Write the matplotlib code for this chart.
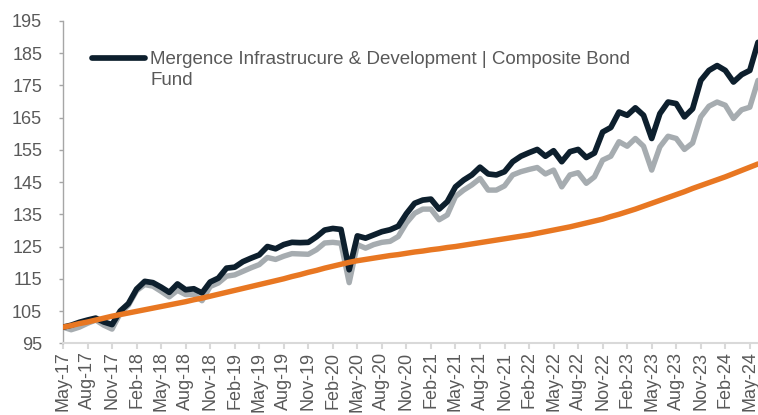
import matplotlib.pyplot as plt
import numpy as np
import pandas as pd
from matplotlib.lines import Line2D

plt.rcParams['font.family'] = ['Liberation Sans', 'DejaVu Sans']

months = pd.date_range("2017-05-01", "2024-06-01", freq="MS")

fund = [100.0, 100.6, 101.5, 102.2, 102.8, 101.6, 100.8, 105.0, 107.3, 111.8,
        114.2, 113.8, 112.4, 110.8, 113.4, 111.6, 111.9, 110.6, 114.0, 115.2,
        118.3, 118.6, 120.3, 121.4, 122.4, 125.0, 124.3, 125.6, 126.3, 126.2,
        126.3, 128.0, 130.1, 130.6, 130.3, 117.8, 128.3, 127.6, 128.6, 129.6,
        130.2, 131.3, 135.2, 138.4, 139.4, 139.7, 136.6, 138.9, 143.5, 145.6,
        147.2, 149.6, 147.5, 147.2, 148.2, 151.3, 153.0, 154.1, 155.1, 153.0,
        154.7, 151.3, 154.4, 155.1, 152.6, 154.0, 160.5, 161.9, 166.7, 165.7,
        168.0, 165.7, 158.5, 166.2, 169.8, 169.3, 165.2, 167.7, 176.5, 179.6,
        181.1, 179.6, 176.0, 178.3, 179.6, 188.3]

composite = [100.0, 99.2, 100.0, 101.2, 102.2, 100.6, 99.4, 104.3, 106.8, 111.3,
             113.2, 112.7, 111.1, 109.4, 111.4, 110.1, 110.2, 108.2, 112.6, 113.7,
             115.8, 116.2, 117.3, 118.4, 119.4, 121.6, 121.0, 122.0, 122.8, 122.7,
             122.6, 124.0, 126.1, 126.3, 126.0, 113.8, 125.6, 124.5, 125.6, 126.3,
             126.6, 128.1, 132.3, 135.3, 136.6, 136.6, 133.3, 134.8, 140.5, 142.5,
             144.1, 146.1, 142.5, 142.5, 143.8, 147.2, 148.2, 148.9, 149.5, 147.5,
             148.7, 143.5, 147.2, 147.9, 144.6, 146.6, 151.8, 153.0, 157.5, 156.1,
             158.5, 156.1, 148.7, 155.9, 159.2, 158.5, 155.1, 157.1, 165.2, 168.5,
             169.8, 168.8, 164.7, 167.4, 168.2, 176.5]

benchmark = [100.0, 100.5, 101.1, 101.6, 102.2, 102.8, 103.4, 103.9, 104.4, 104.9,
             105.4, 105.9, 106.4, 106.9, 107.4, 107.9, 108.5, 109.0, 109.6, 110.2,
             110.8, 111.4, 112.0, 112.6, 113.2, 113.8, 114.4, 115.0, 115.7, 116.3,
             117.0, 117.6, 118.3, 118.9, 119.5, 120.1, 120.6, 121.0, 121.4, 121.8,
             122.2, 122.5, 122.9, 123.3, 123.6, 124.0, 124.3, 124.7, 125.0, 125.4,
             125.8, 126.2, 126.6, 127.0, 127.4, 127.8, 128.2, 128.6, 129.1, 129.6,
             130.1, 130.6, 131.1, 131.7, 132.3, 132.9, 133.5, 134.3, 135.0, 135.8,
             136.6, 137.5, 138.4, 139.3, 140.2, 141.1, 142.0, 143.0, 143.9, 144.8,
             145.7, 146.6, 147.6, 148.6, 149.6, 150.6]

legend_labels = ["Mergence Infrastrucure & Development | Composite Bond", "Fund"]

dark = '#0D1F2D'
grey = '#A6ACB0'
orange = '#E87722'
text_col = '#595959'

x = np.arange(len(months))
tick_pos = x[::3]
tick_labels = [d.strftime("%b-%y") for d in months[::3]]

fig = plt.figure(figsize=(7.58, 4.15), dpi=100)
ax = fig.add_axes([0.0831, 0.1728, 0.9169, 0.7772])

kw = dict(solid_joinstyle='round', solid_capstyle='round')
ax.plot(x, composite, color=grey, lw=3.9, zorder=2, **kw)
ax.plot(x, fund, color=dark, lw=4.1, zorder=3, **kw)
ax.plot(x, benchmark, color=orange, lw=3.9, zorder=4, **kw)

ax.set_xlim(0, 85)
ax.set_ylim(95, 195)
ax.set_yticks(range(95, 196, 10))
ax.set_xticks(tick_pos)
ax.set_xticklabels(tick_labels, rotation=90)

for s in ['top', 'right']:
    ax.spines[s].set_visible(False)
ax.spines['left'].set_color('#A6A6A6')
ax.spines['left'].set_linewidth(1.0)
ax.spines['bottom'].set_color('#D9D9D9')
ax.spines['bottom'].set_linewidth(1.5)

ax.tick_params(axis='y', length=3, width=1, color='#A6A6A6', pad=12,
               labelsize=13, labelcolor=text_col)
ax.tick_params(axis='x', length=4.5, width=1.5, color='#D9D9D9', pad=1.5,
               labelsize=13, labelcolor=text_col)

handles = [Line2D([], [], color=dark, lw=4.1, solid_capstyle='round'),
           Line2D([], [], color='none')]
ax.legend(handles, legend_labels, loc='upper left', bbox_to_anchor=(0.042, 0.906),
          frameon=False, handlelength=2.8, handletextpad=0.3, labelspacing=0.2,
          borderpad=0, borderaxespad=0, fontsize=13.5, labelcolor=text_col)

fig.savefig('out.png', dpi=100)
